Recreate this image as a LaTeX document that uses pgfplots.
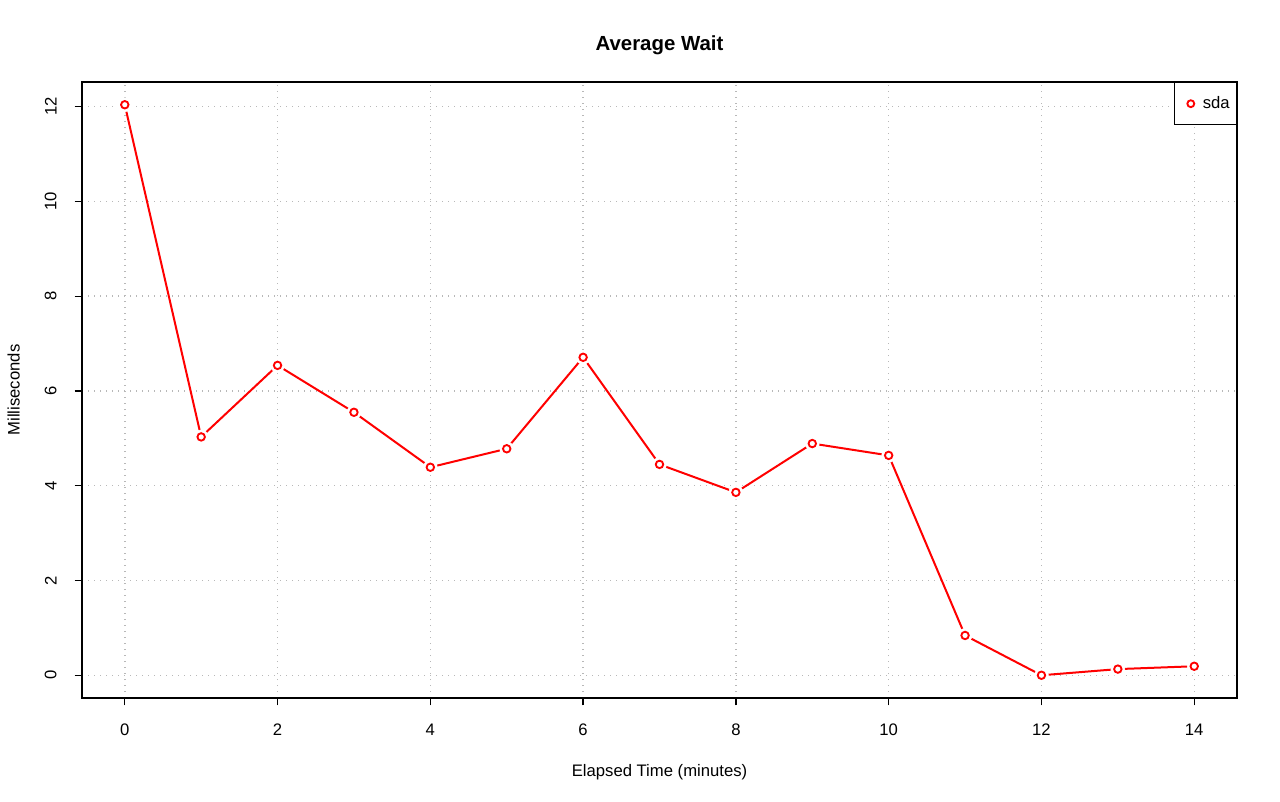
\documentclass[border=0pt]{standalone}
\usepackage{pgfplots}
\pgfplotsset{compat=1.18}
\usepackage{pgfplotstable}
\usepackage{fontspec}
\setmainfont{Liberation Sans}
\pgfplotstableread{
x y
0 12.04
1 5.03
2 6.54
3 5.55
4 4.39
5 4.78
6 6.71
7 4.45
8 3.86
9 4.89
10 4.64
11 0.84
12 0.00
13 0.13
14 0.19
}\datatable
\begin{document}
\begin{tikzpicture}
\path[use as bounding box] (0pt,0pt) rectangle (960pt,600.75pt);
\begin{axis}[
  at={(61.5pt,77.25pt)}, anchor=south west,
  scale only axis, width=866.25pt, height=462pt,
  xmin=-0.56, xmax=14.56, ymin=-0.48, ymax=12.52,
  xtick={0,2,...,14}, ytick={0,2,...,12},
  axis line style={line width=1.5pt},
  tick style={black, line width=1pt},
  tick align=outside, major tick length=5.5pt,
  xtick pos=bottom, ytick pos=left,
  grid=major,
  grid style={black!28, line width=1.1pt, dash pattern=on 1.1pt off 3.4pt},
  ticklabel style={font=\fontsize{12.5}{14}\selectfont},
  yticklabel style={rotate=90, anchor=south, yshift=10pt},
  xticklabel style={yshift=-10.5pt},
  /pgf/number format/assume math mode=true,
  title={\bfseries Average Wait},
  title style={font=\fontsize{15.3}{17}\selectfont, yshift=11pt},
  xlabel={Elapsed Time (minutes)},
  ylabel={Milliseconds},
  label style={font=\fontsize{12.5}{14}\selectfont},
  xlabel style={yshift=-14.5pt},
  ylabel style={yshift=12pt},
  legend style={at={(1,1)}, anchor=north east, draw=black, line width=1pt,
    font=\fontsize{12.5}{14}\selectfont, inner xsep=3pt, inner ysep=8.5pt,
    legend cell align=left},
  legend image code/.code={\path[draw=none] (0pt,0pt) -- (16pt,0pt); \draw[red, line width=1.4pt, fill=white] (9pt,0pt) circle (2.6pt);},
]
\addplot[red, line width=1.5pt, forget plot] table[x=x,y=y] {\datatable};
\addplot[only marks, mark=*, mark size=5.2pt, mark options={draw=white, fill=white}, forget plot] table[x=x,y=y] {\datatable};
\addplot[only marks, mark=*, mark size=2.8pt, mark options={draw=red, fill=white, line width=1.4pt}] table[x=x,y=y] {\datatable};
\addlegendentry{sda}
\end{axis}
\end{tikzpicture}
\end{document}
